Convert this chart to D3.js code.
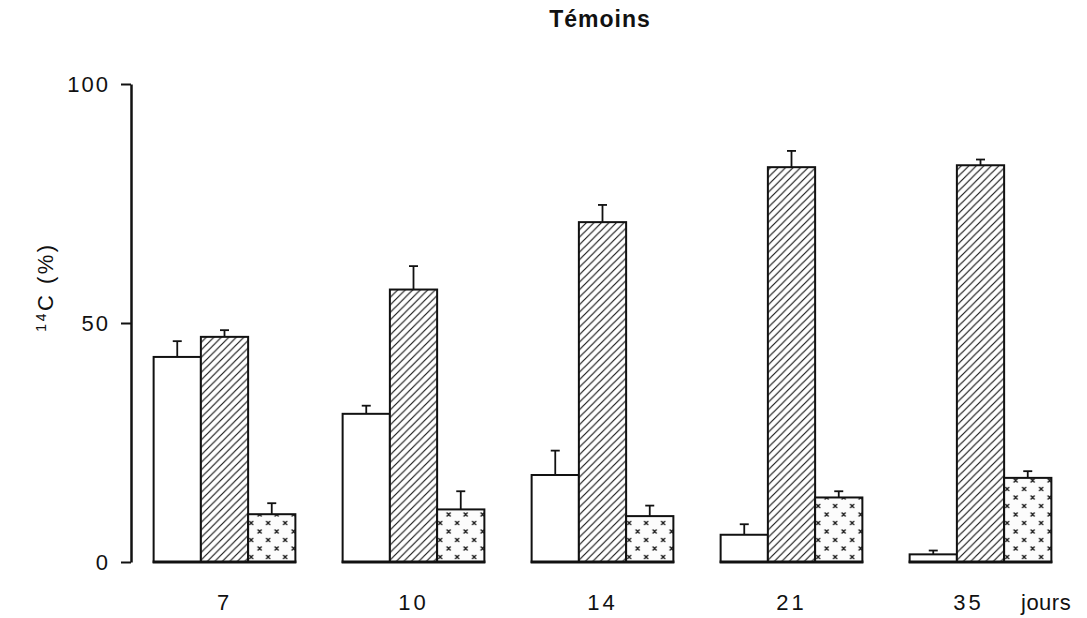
<!DOCTYPE html>
<html>
<head>
<meta charset="utf-8">
<script src="https://cdn.jsdelivr.net/npm/d3@7"></script>
<style>
  html, body { margin: 0; padding: 0; background: #fff; }
  svg { display: block; }
  text { font-family: "Liberation Sans", Arial, sans-serif; fill: #111; }
</style>
</head>
<body>
<svg id="chart" width="1087" height="618"></svg>
<script>
// Sampling days (x categories)
const days = ["7", "10", "14", "21", "35"];
// Three fractions, % of 14C, with upper standard error
const seriesKeys = ["blanc", "hachure", "pointille"];
const blanc = [42.9, 31.0, 18.2, 5.7, 1.6];
const blancErr = [3.3, 1.7, 5.1, 2.2, 0.8];
const hachure = [47.1, 57.0, 71.1, 82.6, 83.0];
const hachureErr = [1.4, 4.9, 3.6, 3.4, 1.2];
const pointille = [10.0, 11.0, 9.6, 13.5, 17.6];
const pointilleErr = [2.3, 3.8, 2.2, 1.3, 1.4];
const yTicks = [0, 50, 100];

const values = { blanc, hachure, pointille };
const errors = { blanc: blancErr, hachure: hachureErr, pointille: pointilleErr };

const svg = d3.select("#chart");

const defs = svg.append("defs");
// diagonal hatching
const hatch = defs.append("pattern")
  .attr("id", "hatch").attr("patternUnits", "userSpaceOnUse")
  .attr("width", 7.5).attr("height", 7.5);
hatch.append("rect").attr("width", 7.5).attr("height", 7.5).attr("fill", "#fff");
hatch.append("path").attr("d", "M-1,8.5 L8.5,-1 M-4,4 L4,-4 M3.5,11.5 L11.5,3.5")
  .attr("stroke", "#111").attr("stroke-width", 1.15);
// staggered small crosses
const cross = defs.append("pattern")
  .attr("id", "cross").attr("patternUnits", "userSpaceOnUse")
  .attr("width", 17).attr("height", 17);
cross.append("rect").attr("width", 17).attr("height", 17).attr("fill", "#fcfcfc");
cross.append("path")
  .attr("d", "M2,2.5 L6,6.5 M6,2.5 L2,6.5 M10.5,11 L14.5,15 M14.5,11 L10.5,15")
  .attr("stroke", "#111").attr("stroke-width", 1.2);

const fills = { blanc: "#fff", hachure: "url(#hatch)", pointille: "url(#cross)" };

const y = d3.scaleLinear().domain([0, 100]).range([562, 84]);
const x = d3.scaleBand().domain(days).range([130, 1075])
  .paddingInner(0.25).paddingOuter(0.125);
const xs = d3.scaleBand().domain(seriesKeys).range([0, x.bandwidth()]).padding(0);

// y axis
const yAxis = svg.append("g")
  .attr("transform", `translate(${131},0)`)
  .call(d3.axisLeft(y).tickValues(yTicks).tickSize(10).tickSizeOuter(0).tickPadding(11));
yAxis.select(".domain").attr("stroke", "#111").attr("stroke-width", 2.5);
yAxis.selectAll(".tick line").attr("stroke", "#111").attr("stroke-width", 2);
yAxis.selectAll(".tick text")
  .style("font-size", "22px").style("letter-spacing", "2px")
  .attr("fill", "#111").attr("font-family", "Liberation Sans, Arial, sans-serif");

// groups
const groups = svg.append("g").selectAll("g")
  .data(days).join("g")
  .attr("transform", d => `translate(${x(d)},0)`);

groups.each(function(day, i) {
  const g = d3.select(this);
  seriesKeys.forEach(k => {
    const v = values[k][i];
    const e = errors[k][i];
    const cx = xs(k) + xs.bandwidth() / 2;
    // error bar
    g.append("line")
      .attr("x1", cx).attr("x2", cx)
      .attr("y1", y(v)).attr("y2", y(v + e))
      .attr("stroke", "#111").attr("stroke-width", 1.8);
    g.append("line")
      .attr("x1", cx - 4.5).attr("x2", cx + 4.5)
      .attr("y1", y(v + e)).attr("y2", y(v + e))
      .attr("stroke", "#111").attr("stroke-width", 1.8);
    // bar
    g.append("rect")
      .attr("x", xs(k)).attr("width", xs.bandwidth())
      .attr("y", y(v)).attr("height", y(0) - y(v))
      .attr("fill", fills[k])
      .attr("stroke", "#111").attr("stroke-width", 2);
  });
  // base line under the group
  g.append("line")
    .attr("x1", -1).attr("x2", x.bandwidth() + 1)
    .attr("y1", y(0)).attr("y2", y(0))
    .attr("stroke", "#111").attr("stroke-width", 3);
});

// x labels
svg.append("g").selectAll("text")
  .data(days).join("text")
  .attr("x", d => x(d) + x.bandwidth() / 2 + (d === "35" ? -12 : 0))
  .attr("y", 610)
  .attr("text-anchor", "middle")
  .style("font-size", "22px").style("letter-spacing", "3px")
  .text(d => d);

svg.append("text")
  .attr("x", 1021).attr("y", 610)
  .style("font-size", "22px").style("letter-spacing", "0.5px")
  .text("jours");

// y label: 14C (%)
const yl = svg.append("text")
  .attr("transform", "translate(53,287) rotate(-90)")
  .attr("text-anchor", "middle")
  .style("font-size", "22px").style("letter-spacing", "2.5px");
yl.append("tspan").attr("dy", "-7").style("font-size", "14px").text("14");
yl.append("tspan").attr("dy", "7").text("C (%)");

// title
svg.append("text")
  .attr("x", 600).attr("y", 27)
  .attr("text-anchor", "middle")
  .style("font-size", "23px").style("font-weight", "600").style("letter-spacing", "1px")
  .text("Témoins");
</script>
</body>
</html>
